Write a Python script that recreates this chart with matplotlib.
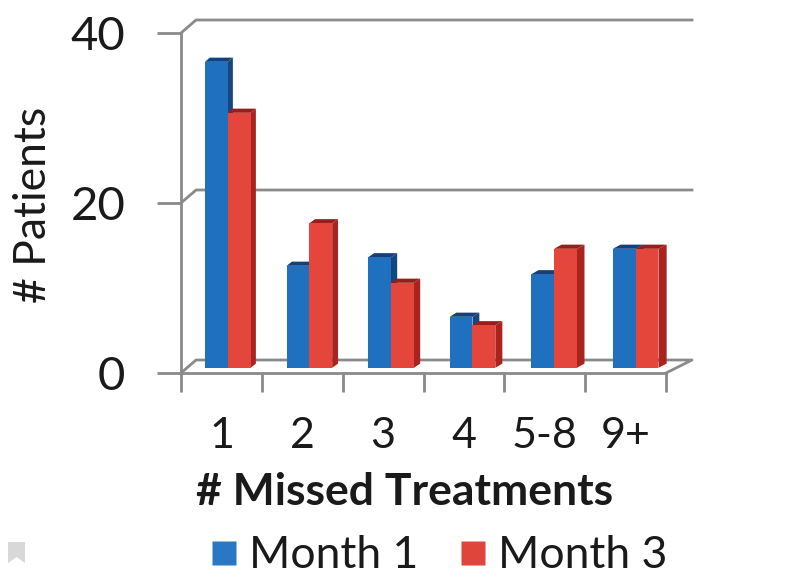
import matplotlib
matplotlib.use("Agg")
import matplotlib.pyplot as plt
from matplotlib.patches import Polygon
from matplotlib.transforms import Affine2D
from matplotlib.lines import Line2D
from matplotlib.ticker import FixedLocator, NullFormatter

# ---- data ----
categories = ["1", "2", "3", "4", "5-8", "9+"]
month1 = [36, 12, 13, 6, 11, 14]
month3 = [30, 17, 10, 5, 14, 14]
series_names = ["Month 1", "Month 3"]
y_ticks = [0, 20, 40]

plt.rcParams["font.family"] = ["Lato", "DejaVu Sans"]

W, H, DPI = 805, 580, 100
fig = plt.figure(figsize=(W / DPI, H / DPI), dpi=DPI)

# front edge of the floor / front value axis, in canvas pixels
X0, X1 = 181, 666
Y0, YTOP = 373, 33
YMAX = 40
ax = fig.add_axes([X0 / W, 1 - Y0 / H, (X1 - X0) / W, (Y0 - YTOP) / H])
n = len(categories)
ax.set_xlim(-0.5, n - 0.5)
ax.set_ylim(0, YMAX)
ax.set_facecolor("none")
for s in ("top", "right"):
    ax.spines[s].set_visible(False)

px_x = (X1 - X0) / n
px_y = (Y0 - YTOP) / YMAX

# oblique projection of the depth axis (0 = front, 1 = back wall)
BACK_DX, BACK_DY, BACK_SCALE = 15.0, 13.0, 496.0 / 485.0


def proj(x, y, d):
    sx = 1 + d * (BACK_SCALE - 1)
    return (-0.5 + (x + 0.5) * sx + d * BACK_DX / px_x, y + d * BACK_DY / px_y)


def depth_transform(d):
    sx = 1 + d * (BACK_SCALE - 1)
    return (Affine2D().translate(0.5, 0).scale(sx, 1)
            .translate(-0.5 + d * BACK_DX / px_x, d * BACK_DY / px_y) + ax.transData)


GRID = "#8a8a8a"
LW = 2.0
TEXT = "#1a1a1a"

# back wall gridlines with their side-wall connectors
for v in y_ticks[1:]:
    pts = [proj(-0.5, v, 0), proj(-0.5, v, 1), proj(n - 0.5, v, 1)]
    ax.plot([p[0] for p in pts], [p[1] for p in pts], color=GRID, lw=LW,
            clip_on=False, zorder=1, solid_joinstyle="round")

# floor outline
floor = [proj(-0.5, 0, 0), proj(-0.5, 0, 1), proj(n - 0.5, 0, 1), proj(n - 0.5, 0, 0)]
ax.plot([p[0] for p in floor], [p[1] for p in floor], color=GRID, lw=LW,
        clip_on=False, zorder=1, solid_joinstyle="round")

# 3-D columns
D_FRONT, D_BACK = 0.40, 0.72
BAR_W = 0.28
styles = [
    dict(front="#1f70bf", top="#173f78", side="#16457f"),
    dict(front="#e5463c", top="#9a1d1b", side="#a9231f"),
]
front_tr = depth_transform(D_FRONT)
for i in range(n):
    for k, vals in enumerate((month1, month3)):
        st = styles[k]
        x0 = i - BAR_W + k * BAR_W
        x1 = x0 + BAR_W
        h = vals[i]
        z = 3 + i * 0.1 + k * 0.01
        side = [proj(x1, 0, D_FRONT), proj(x1, h, D_FRONT), proj(x1, h, D_BACK), proj(x1, 0, D_BACK)]
        top = [proj(x0, h, D_FRONT), proj(x1, h, D_FRONT), proj(x1, h, D_BACK), proj(x0, h, D_BACK)]
        ax.add_patch(Polygon(side, closed=True, facecolor=st["side"], edgecolor="none",
                             clip_on=False, zorder=z))
        ax.add_patch(Polygon(top, closed=True, facecolor=st["top"], edgecolor="none",
                             clip_on=False, zorder=z))
        ax.bar(x0, h, width=BAR_W, align="edge", color=st["front"], edgecolor="none",
               transform=front_tr, clip_on=False, zorder=z + 0.001)

# front axes
ax.spines["left"].set_color(GRID)
ax.spines["left"].set_linewidth(LW)
ax.spines["bottom"].set_color(GRID)
ax.spines["bottom"].set_linewidth(LW)
ax.set_yticks(y_ticks)
ax.set_yticklabels([str(v) for v in y_ticks])
ax.tick_params(axis="y", direction="out", length=17, width=LW, colors=GRID,
               labelcolor=TEXT, labelsize=34, pad=23)

ax.set_xticks(range(n))
ax.set_xticklabels(categories)
ax.xaxis.set_minor_locator(FixedLocator([i - 0.5 for i in range(n + 1)]))
ax.xaxis.set_minor_formatter(NullFormatter())
ax.tick_params(axis="x", which="major", length=0, labelsize=31, labelcolor=TEXT, pad=31.5)
ax.tick_params(axis="x", which="minor", direction="out", length=14, width=LW, colors=GRID)

# axis titles
fig.text(34 / W, 1 - 205 / H, "# Patients", rotation=90, ha="center", va="center",
         fontsize=32, color=TEXT)
fig.text(405 / W, 1 - 492 / H, "# Missed Treatments", ha="center", va="center",
         fontsize=32, fontweight="bold", color=TEXT)

# legend
handles = [Line2D([], [], marker="s", linestyle="none", markersize=17,
                  markerfacecolor=c, markeredgecolor="none")
           for c in ("#2a78c4", "#e0453c")]
fig.legend(handles, series_names, loc="center", bbox_to_anchor=(439 / W, 1 - 556 / H),
           ncol=2, frameon=False, fontsize=32, handlelength=0.6, handletextpad=0.25,
           columnspacing=0.95, labelcolor=TEXT, borderpad=0, borderaxespad=0)

# small page marker at the lower left
fig.patches.append(Polygon([(8 / W, 1 - 542 / H), (25 / W, 1 - 542 / H), (25 / W, 1 - 563 / H),
                            (16.5 / W, 1 - 557 / H), (8 / W, 1 - 563 / H)], closed=True,
                           transform=fig.transFigure, facecolor="#d8d8d8", edgecolor="none"))

fig.savefig("out.png", dpi=DPI)
